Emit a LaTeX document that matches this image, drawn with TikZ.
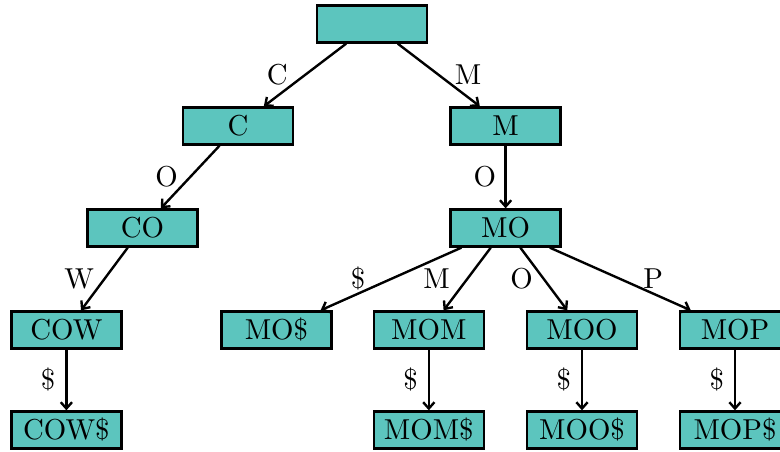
\documentclass[tikz,border=0pt]{standalone}
\usepackage{fontspec}
\usetikzlibrary{arrows.meta}
\newfontfamily\alberofont{lmroman10-regular.otf}
\definecolor{verdeacqua}{RGB}{92,197,190}

\tikzset{
    nodo/.style={draw=black, line width=1.8pt, fill=verdeacqua,
        minimum width=2.75cm, minimum height=0.92cm, inner sep=0pt,
        font=\alberofont\fontsize{20.5}{24}\selectfont},
    etichetta/.style={inner sep=0pt, font=\alberofont\fontsize{20.5}{24}\selectfont},
    ramo/.style={->, line width=1.7pt}
}

\begin{document}
\begin{tikzpicture}[>={Straight Barb[length=4.5pt,width=8pt]}]
        \clip (0,0) rectangle (19.5,-11.3);

        % --- Radice ---
        \node[nodo] (radice) at (9.3,-0.6) {};

        % --- Livello 1 ---
        \node[nodo] (c) at (5.95,-3.15) {C};
        \node[nodo] (m) at (12.64,-3.15) {M};

        % --- Livello 2 ---
        \node[nodo] (co) at (3.56,-5.7) {CO};
        \node[nodo] (mo) at (12.64,-5.7) {MO};

        % --- Livello 3 ---
        \node[nodo] (cow) at (1.66,-8.25) {COW};
        \node[nodo] (modollaro) at (6.91,-8.25) {MO\$};
        \node[nodo] (mom) at (10.72,-8.25) {MOM};
        \node[nodo] (moo) at (14.55,-8.25) {MOO};
        \node[nodo] (mop) at (18.375,-8.25) {MOP};

        % --- Foglie ---
        \node[nodo] (cowdollaro) at (1.66,-10.75) {COW\$};
        \node[nodo] (momdollaro) at (10.72,-10.75) {MOM\$};
        \node[nodo] (moodollaro) at (14.55,-10.75) {MOO\$};
        \node[nodo] (mopdollaro) at (18.375,-10.75) {MOP\$};

        % Rami con etichette
        \draw[ramo] (radice) -- node[etichetta, left=11.5pt] {C} (c);
        \draw[ramo] (radice) -- node[etichetta, right=10.5pt] {M} (m);
        \draw[ramo] (c) -- node[etichetta, left=8pt] {O} (co);
        \draw[ramo] (m) -- node[etichetta, left=6pt] {O} (mo);
        \draw[ramo] (co) -- node[etichetta, left=6.5pt] {W} (cow);

        \draw[ramo] (mo) -- node[etichetta, left=17.5pt] {\$} (modollaro);
        \draw[ramo] (mo) -- node[etichetta, left=11.5pt] {M} (mom);
        \draw[ramo] (mo) -- node[etichetta, left=7pt] {O} (moo);
        \draw[ramo] (mo) -- node[etichetta, right=15.5pt] {P} (mop);

        \draw[ramo] (cow) -- node[etichetta, left=7pt] {\$} (cowdollaro);
        \draw[ramo] (mom) -- node[etichetta, left=7pt] {\$} (momdollaro);
        \draw[ramo] (moo) -- node[etichetta, left=7pt] {\$} (moodollaro);
        \draw[ramo] (mop) -- node[etichetta, left=7pt] {\$} (mopdollaro);
    \end{tikzpicture}
\end{document}
